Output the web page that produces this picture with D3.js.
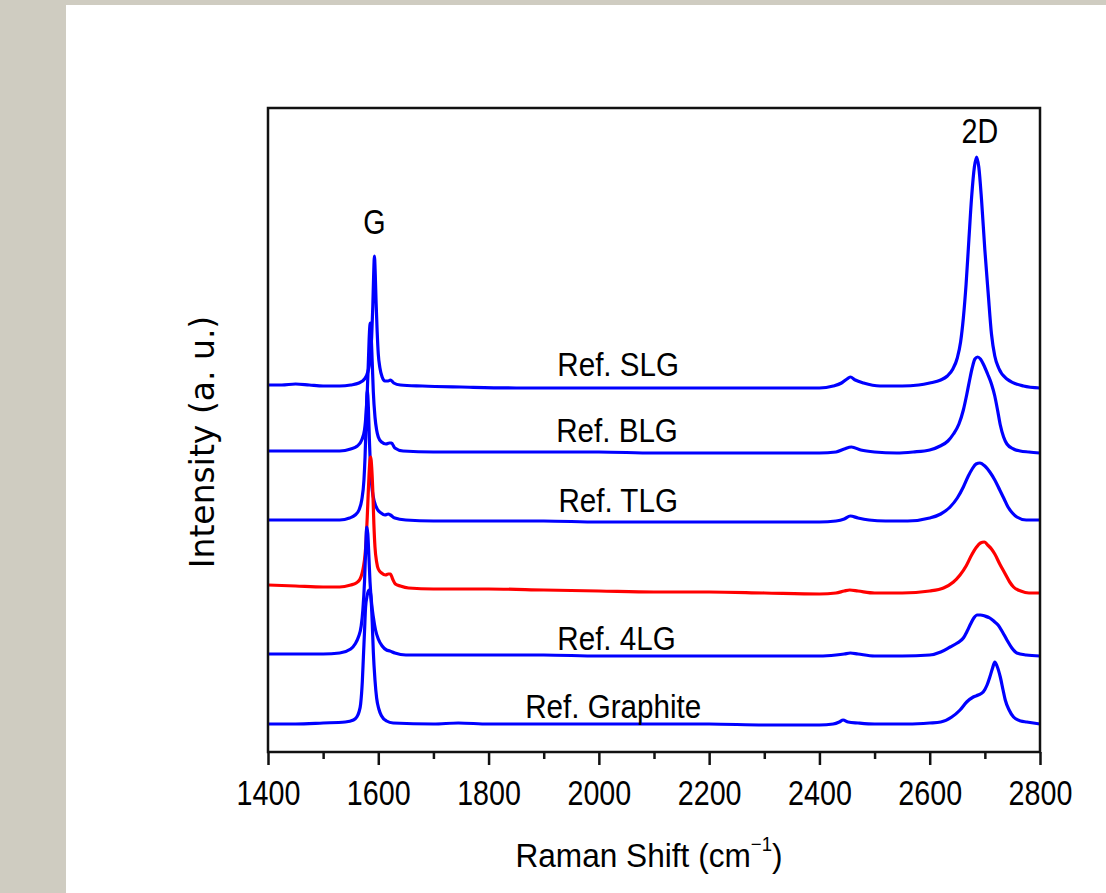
<!DOCTYPE html>
<html>
<head>
<meta charset="utf-8">
<script src="https://cdn.jsdelivr.net/npm/d3@7"></script>
<style>
  body { margin: 0; background: #fff; }
  svg { display: block; }
  .lbl { font-family: "Liberation Sans", Arial, sans-serif; fill: #000; }
</style>
</head>
<body>
<script>
// Raman spectra, [shift (cm-1), intensity (a.u., stacked)]
var slg = [
  [1400,367],[1425,367],[1450,368],[1475,367],[1500,366],[1530,366],[1550,367],[1565,369],[1575,373],
  [1581,380],[1585,392],[1588,415],[1590,445],[1591.5,475],[1593,496],[1594.5,478],[1596,450],[1598,420],
  [1600,398],[1603,384],[1607,375],[1612,371],[1618,371],[1622,372],[1628,369],[1640,367],[1680,366],
  [1750,365],[1850,364],[1950,364],[2050,364],[2150,364],[2250,364],[2350,364],[2400,364],[2425,366],
  [2440,369],[2450,373],[2456,375],[2465,372],[2480,369],[2510,366],[2550,366],[2580,367],[2600,369],
  [2620,372],[2632,376],[2642,383],[2650,394],[2656,410],[2661,434],[2666,468],[2671,512],[2676,555],
  [2681,585],[2685,595],[2689,585],[2694,552],[2700,502],[2706,459],[2712,418],[2718,396],[2725,384],
  [2740,373],[2770,366],[2800,364]
];
var blg = [
  [1400,301],[1450,301],[1500,301],[1530,301],[1550,303],[1562,306],[1570,312],[1575,322],[1578,340],
  [1580,360],[1582,390],[1584,420],[1585.5,429],[1587,418],[1589,390],[1591,360],[1594,335],[1597,322],
  [1600,315],[1606,310],[1614,308],[1620,309],[1624,309],[1630,304],[1645,301],[1700,300],[1800,300],
  [1900,300],[2000,300],[2100,299],[2200,299],[2300,299],[2400,299],[2430,300],[2445,303],[2458,305],
  [2475,302],[2500,300],[2540,299],[2570,300],[2600,302],[2619,306],[2633,311],[2643,318],[2653,328],
  [2661,342],[2667,357],[2672,371],[2677,384],[2682,393],[2687,395],[2692,393],[2698,387],[2705,378],
  [2712,368],[2718,356],[2723,342],[2728,327],[2734,315],[2740,308],[2752,303],[2764,301],[2780,300],
  [2800,299]
];
var tlg = [
  [1400,232],[1450,232],[1500,232],[1530,232],[1548,234],[1558,237],[1565,242],[1570,252],[1574,272],
  [1576,295],[1578,330],[1580,362],[1582,345],[1584,310],[1586,282],[1589,262],[1593,250],[1598,243],
  [1605,239],[1612,237],[1618,238],[1622,237],[1630,234],[1650,232],[1700,231],[1800,231],[1900,231],
  [2000,230],[2100,230],[2200,230],[2300,230],[2400,230],[2430,231],[2445,233],[2456,236],[2470,234],
  [2490,232],[2520,231],[2560,231],[2600,234],[2620,238],[2637,245],[2650,254],[2661,265],[2670,276],
  [2677,283],[2684,288],[2691,289],[2700,286],[2709,280],[2718,272],[2727,262],[2735,253],[2742,245],
  [2750,239],[2758,235],[2775,232],[2800,232]
];
var sample = [
  [1400,167],[1450,166],[1500,165],[1530,165],[1550,167],[1560,169],[1567,173],[1573,185],[1576,197],
  [1578,212],[1580,235],[1582,262],[1584,285],[1586,295],[1588,285],[1590,262],[1592,228],[1594,205],
  [1597,190],[1600,183],[1606,179],[1613,177],[1618,178],[1622,178],[1626,173],[1631,168],[1640,166],
  [1655,164],[1700,163],[1800,163],[1900,162],[2000,161],[2100,160],[2200,160],[2300,159],[2400,158],
  [2430,159],[2445,161],[2455,162],[2470,161],[2500,159],[2550,159],[2600,161],[2625,164],[2643,170],
  [2655,177],[2666,186],[2676,197],[2685,205],[2692,209],[2699,210],[2705,207],[2712,203],[2718,198],
  [2727,188],[2736,179],[2745,170],[2752,165],[2765,161],[2780,159],[2800,159]
];
var fourLg = [
  [1400,98],[1450,98],[1500,98],[1530,99],[1550,103],[1558,108],[1564,115],[1569,126],[1572,142],
  [1575,170],[1577,200],[1579,225],[1581,218],[1583,195],[1585,170],[1588,148],[1591,135],[1595,122],
  [1600,113],[1607,106],[1615,102],[1621,101],[1630,99],[1650,97],[1700,97],[1800,97],[1900,97],
  [2000,96],[2100,96],[2200,96],[2300,96],[2400,96],[2430,97],[2445,98],[2456,99],[2470,98],[2500,96],
  [2550,96],[2600,97],[2620,100],[2637,105],[2650,109],[2661,114],[2668,121],[2674,128],[2680,134],
  [2686,137],[2692,137],[2700,136],[2709,134],[2716,131],[2724,127],[2732,120],[2740,112],[2749,104],
  [2758,99],[2775,97],[2800,96]
];
var graphite = [
  [1400,28],[1450,28],[1500,29],[1540,30],[1555,32],[1561,35],[1565,40],[1568,48],[1571,70],[1573,95],
  [1575,120],[1577,145],[1580,157],[1583,162],[1585,161],[1587,152],[1589,130],[1591,100],[1594,72],
  [1597,54],[1601,43],[1606,36],[1615,31],[1627,29],[1700,28],[1745,29],[1800,28],[1900,28],[2000,28],
  [2100,28],[2200,28],[2300,27],[2400,27],[2425,28],[2436,30],[2443,32],[2452,30],[2470,29],[2500,28],
  [2560,28],[2600,29],[2620,30],[2640,35],[2655,42],[2667,50],[2679,55],[2688,57],[2697,60],[2704,67],
  [2709,75],[2714,84],[2718,90],[2722,86],[2728,75],[2733,62],[2737,52],[2744,42],[2752,35],[2765,31],
  [2776,30],[2800,28]
];

var seriesNames = ['Ref. SLG', 'Ref. BLG', 'Ref. TLG', '', 'Ref. 4LG', 'Ref. Graphite'];
var majorTicks = [1400, 1600, 1800, 2000, 2200, 2400, 2600, 2800];
var minorTicks = [1500, 1700, 1900, 2100, 2300, 2500, 2700];
var peakNames = ['G', '2D'];
var peakShifts = [1593, 2691];

var series = [slg, blg, tlg, sample, fourLg, graphite];
var colors = ['#0000ff', '#0000ff', '#0000ff', '#ff0000', '#0000ff', '#0000ff'];
// where each name sits (shift, intensity)
var nameAt = [[2035, 376], [2033, 310], [2035, 240], null, [2032, 102], [2026, 34]];

var width = 1106, height = 893;

var svg = d3.select('body')
  .append('svg')
    .attr('width', width)
    .attr('height', height);

// slide background
svg.append('rect').attr('width', width).attr('height', height).attr('fill', '#fff');
svg.append('rect').attr('width', 66).attr('height', height).attr('fill', '#cfccc1');
svg.append('rect').attr('width', width).attr('height', 5).attr('fill', '#cfccc1');

var x = d3.scaleLinear()
    .domain([1400, 2800])
    .range([268, 1040]);
var y = d3.scaleLinear()
    .domain([0, 644])
    .range([752, 108]);

var line = d3.line()
    .x(function(d) { return x(d[0]); })
    .y(function(d) { return y(d[1]); })
    .curve(d3.curveMonotoneX);

svg.append('g')
  .selectAll('path')
  .data(series)
  .join('path')
    .attr('d', line)
    .attr('fill', 'none')
    .attr('stroke', function(d, i) { return colors[i]; })
    .attr('stroke-width', 3.2)
    .attr('stroke-linejoin', 'round');

// frame
svg.append('rect')
  .attr('x', 268).attr('y', 108)
  .attr('width', 772).attr('height', 644)
  .attr('fill', 'none')
  .attr('stroke', '#111')
  .attr('stroke-width', 2.5);

// x axis: minor ticks first, then labelled ones
svg.append('g')
  .attr('transform', 'translate(0,752)')
  .call(d3.axisBottom(x).tickValues(minorTicks).tickSize(7).tickSizeOuter(0).tickFormat(''))
  .call(function(g) { g.select('.domain').remove(); })
  .selectAll('line').attr('stroke', '#111').attr('stroke-width', 2.5);

var xAxis = svg.append('g')
  .attr('transform', 'translate(0,752)')
  .call(d3.axisBottom(x).tickValues(majorTicks).tickSize(13).tickSizeOuter(0).tickFormat(d3.format('d')));
xAxis.select('.domain').remove();
xAxis.selectAll('line').attr('stroke', '#111').attr('stroke-width', 2.5);
xAxis.selectAll('text')
  .attr('class', 'lbl')
  .attr('font-size', 35)
  .attr('y', 0).attr('dy', null)
  .attr('transform', 'translate(0,53) scale(0.82,1)');

// axis titles
var xt = svg.append('text')
  .attr('class', 'lbl')
  .attr('font-size', 34)
  .attr('text-anchor', 'middle')
  .attr('transform', 'translate(649,867) scale(0.93,1)');
xt.append('tspan').text('Raman Shift (cm');
xt.append('tspan').attr('font-size', 20).attr('dy', -16).text('\u22121');
xt.append('tspan').attr('dy', 16).text(')');

svg.append('text')
  .attr('font-family', '"DejaVu Sans", sans-serif')
  .attr('font-size', 33)
  .attr('text-anchor', 'middle')
  .attr('transform', 'translate(214,442) rotate(-90)')
  .text('Intensity (a. u.)');

// peak names
svg.append('g')
  .selectAll('text')
  .data(peakNames)
  .join('text')
    .attr('class', 'lbl')
    .attr('font-size', 35)
    .attr('text-anchor', 'middle')
    .attr('transform', function(d, i) {
      return 'translate(' + x(peakShifts[i]) + ',' + (i === 0 ? 234 : 143) + ') scale(0.82,1)';
    })
    .text(function(d) { return d; });

// spectrum names
svg.append('g')
  .selectAll('text')
  .data(seriesNames.filter(function(d, i) { return nameAt[i]; }).map(function(d) {
    return { name: d, at: nameAt[seriesNames.indexOf(d)] };
  }))
  .join('text')
    .attr('class', 'lbl')
    .attr('font-size', 34)
    .attr('text-anchor', 'middle')
    .attr('transform', function(d) {
      return 'translate(' + x(d.at[0]) + ',' + y(d.at[1]) + ') scale(0.87,1)';
    })
    .text(function(d) { return d.name; });
</script>
</body>
</html>
